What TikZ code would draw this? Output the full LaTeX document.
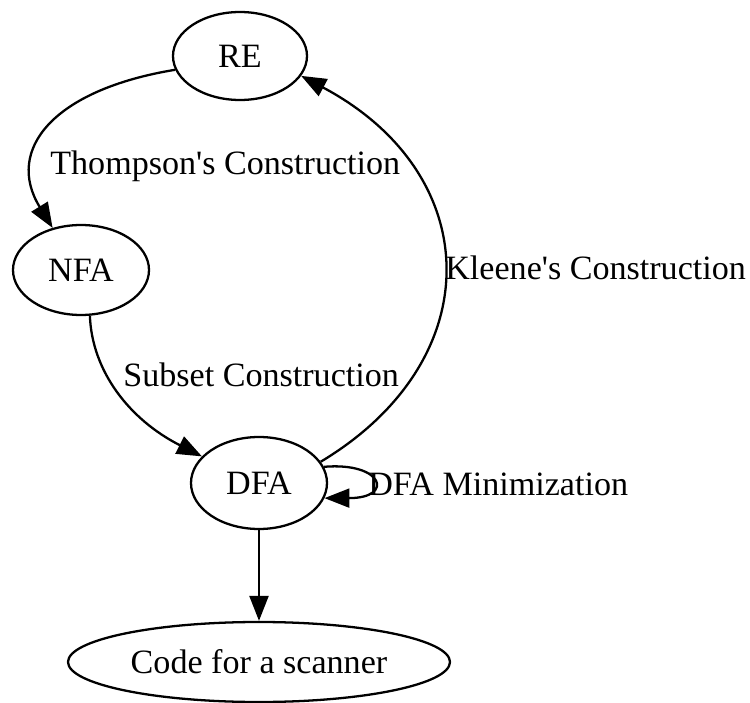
\documentclass[tikz,border=0pt]{standalone}
\usepackage{fontspec}
\setmainfont{Liberation Serif}
\usepackage{tikz}
\usetikzlibrary{shapes.geometric,arrows.meta}

\begin{document}
\begin{tikzpicture}[
  font=\fontsize{19.4}{23}\selectfont,
  state/.style={ellipse, draw, line width=1.3pt, inner sep=0pt},
  edge/.style={line width=1.3pt, -{Triangle[length=0.5cm,width=0.38cm]}},
  lbl/.style={anchor=base west, inner sep=0pt}]
\useasboundingbox (0,0) rectangle (15,-14.06);

% states
\node[state, minimum width=2.68cm, minimum height=1.76cm] (re) at (4.8,-1.12) {RE};
\node[state, minimum width=2.72cm, minimum height=1.8cm] (nfa) at (1.62,-5.4) {NFA};
\node[state, minimum width=2.72cm, minimum height=1.84cm] (dfa) at (5.18,-9.66) {DFA};
\node[state, minimum width=7.64cm, minimum height=1.6cm] (code) at (5.18,-13.24) {Code for a scanner};

% edge labels
\node[lbl] (thompson) at (1.0,-3.5) {Thompson\textquotesingle s Construction};
\node[lbl] (subset) at (2.46,-7.74) {Subset Construction};
\node[lbl] (kleene) at (8.9,-5.6) {Kleene\textquotesingle s Construction};
\node[lbl] (minim) at (7.36,-9.9) {DFA Minimization};

% edges
\draw[edge] (re.192) .. controls +(-2.44,-0.4) and +(-0.96,1.56) .. (nfa.124);
\draw[edge] (nfa.281) .. controls +(0.04,-1.1) and +(-1.46,0.74) .. (dfa.155);
\draw[edge] (dfa.19) .. controls +(3.4,2.04) and +(3.69,-1.96) .. (re.342);
\draw[edge] (dfa.14) .. controls +(1.2,0.1) and +(1.4,0) .. (dfa.-13);
\draw[edge] (dfa) -- (code);
\end{tikzpicture}
\end{document}
